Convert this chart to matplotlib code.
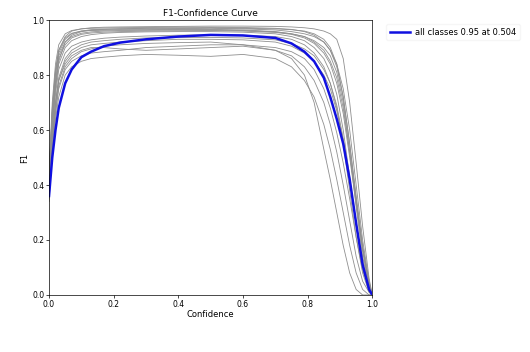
import matplotlib
matplotlib.use('Agg')
import matplotlib.pyplot as plt

# confidence grid the curves were read at
conf = [0.0, 0.01, 0.02, 0.03, 0.05, 0.07, 0.1, 0.13, 0.17, 0.22, 0.3, 0.4, 0.5, 0.6,
        0.7, 0.75, 0.79, 0.82, 0.85, 0.87, 0.89, 0.91, 0.93, 0.95, 0.97, 0.99, 1.0]

# per-class F1 curves (grey)
class_f1 = [
    [0.42, 0.68, 0.82, 0.89, 0.94, 0.96, 0.968, 0.972, 0.974, 0.975, 0.976, 0.977, 0.978, 0.978, 0.977, 0.975, 0.972, 0.968, 0.96, 0.95, 0.93, 0.86, 0.70, 0.48, 0.25, 0.06, 0.0],
    [0.40, 0.62, 0.76, 0.85, 0.92, 0.945, 0.958, 0.963, 0.966, 0.968, 0.97, 0.971, 0.972, 0.97, 0.968, 0.965, 0.96, 0.95, 0.93, 0.90, 0.84, 0.72, 0.55, 0.35, 0.16, 0.03, 0.0],
    [0.34, 0.52, 0.64, 0.72, 0.80, 0.83, 0.85, 0.86, 0.865, 0.87, 0.875, 0.872, 0.868, 0.875, 0.86, 0.83, 0.78, 0.72, 0.62, 0.53, 0.42, 0.30, 0.18, 0.08, 0.02, 0.0, 0.0],
    [0.38, 0.58, 0.70, 0.78, 0.85, 0.88, 0.90, 0.91, 0.915, 0.92, 0.925, 0.93, 0.93, 0.928, 0.92, 0.905, 0.88, 0.85, 0.80, 0.75, 0.67, 0.56, 0.42, 0.26, 0.12, 0.02, 0.0],
    [0.44, 0.66, 0.80, 0.88, 0.93, 0.95, 0.96, 0.962, 0.963, 0.965, 0.965, 0.966, 0.966, 0.964, 0.958, 0.95, 0.94, 0.925, 0.90, 0.87, 0.81, 0.70, 0.52, 0.32, 0.14, 0.03, 0.0],
    [0.36, 0.55, 0.67, 0.76, 0.83, 0.86, 0.885, 0.895, 0.905, 0.91, 0.915, 0.918, 0.92, 0.91, 0.89, 0.86, 0.80, 0.70, 0.53, 0.42, 0.30, 0.18, 0.08, 0.02, 0.0, 0.0, 0.0],
    [0.41, 0.63, 0.77, 0.86, 0.91, 0.935, 0.948, 0.953, 0.956, 0.958, 0.96, 0.961, 0.962, 0.96, 0.955, 0.948, 0.935, 0.915, 0.88, 0.84, 0.77, 0.66, 0.50, 0.33, 0.17, 0.04, 0.0],
    [0.37, 0.56, 0.69, 0.78, 0.84, 0.87, 0.89, 0.90, 0.90, 0.895, 0.89, 0.895, 0.90, 0.905, 0.89, 0.87, 0.83, 0.78, 0.70, 0.62, 0.52, 0.40, 0.27, 0.14, 0.05, 0.01, 0.0],
    [0.43, 0.67, 0.81, 0.89, 0.935, 0.952, 0.96, 0.965, 0.967, 0.968, 0.968, 0.969, 0.97, 0.968, 0.964, 0.958, 0.95, 0.94, 0.92, 0.89, 0.84, 0.75, 0.60, 0.40, 0.20, 0.05, 0.0],
    [0.39, 0.60, 0.73, 0.82, 0.88, 0.905, 0.92, 0.928, 0.934, 0.938, 0.942, 0.945, 0.946, 0.945, 0.94, 0.93, 0.91, 0.88, 0.83, 0.77, 0.68, 0.55, 0.38, 0.21, 0.08, 0.01, 0.0],
    [0.40, 0.61, 0.75, 0.84, 0.90, 0.925, 0.94, 0.947, 0.952, 0.955, 0.957, 0.958, 0.958, 0.956, 0.95, 0.94, 0.925, 0.90, 0.86, 0.81, 0.73, 0.60, 0.43, 0.25, 0.10, 0.02, 0.0],
    [0.35, 0.54, 0.66, 0.75, 0.82, 0.85, 0.87, 0.88, 0.885, 0.89, 0.90, 0.905, 0.91, 0.91, 0.90, 0.885, 0.86, 0.82, 0.75, 0.68, 0.59, 0.48, 0.35, 0.21, 0.09, 0.02, 0.0],
    [0.45, 0.70, 0.84, 0.91, 0.95, 0.962, 0.968, 0.97, 0.971, 0.972, 0.973, 0.974, 0.974, 0.973, 0.97, 0.966, 0.958, 0.945, 0.92, 0.89, 0.83, 0.72, 0.55, 0.36, 0.18, 0.04, 0.0],
    [0.38, 0.57, 0.70, 0.79, 0.86, 0.89, 0.91, 0.92, 0.925, 0.93, 0.935, 0.936, 0.937, 0.935, 0.928, 0.915, 0.895, 0.87, 0.82, 0.77, 0.69, 0.57, 0.42, 0.26, 0.12, 0.02, 0.0],
    [0.42, 0.64, 0.78, 0.87, 0.92, 0.94, 0.952, 0.957, 0.96, 0.962, 0.963, 0.964, 0.964, 0.962, 0.957, 0.95, 0.94, 0.92, 0.89, 0.85, 0.79, 0.68, 0.52, 0.34, 0.17, 0.04, 0.0],
]

# mean over all classes (blue)
all_f1 = [0.36, 0.50, 0.60, 0.68, 0.77, 0.82, 0.865, 0.885, 0.905, 0.918, 0.93, 0.94, 0.946,
          0.944, 0.935, 0.915, 0.885, 0.85, 0.79, 0.72, 0.64, 0.55, 0.42, 0.26, 0.11, 0.02, 0.0]
all_label = 'all classes 0.95 at 0.504'

fig = plt.figure(figsize=(5.3, 3.52), dpi=100)
ax = fig.add_axes([0.0925, 0.162, 0.61, 0.781])

for y in class_f1:
    ax.plot(conf, y, color='#8f8f8f', linewidth=0.6)
ax.plot(conf, all_f1, color='#1010e0', linewidth=1.8, label=all_label)

ax.set_xlim(0, 1)
ax.set_ylim(0, 1)
ax.set_xlabel('Confidence', fontsize=6, labelpad=1)
ax.set_ylabel('F1', fontsize=6, labelpad=2)
ax.set_title('F1-Confidence Curve', fontsize=6.5, pad=3)
ax.tick_params(labelsize=5.5, length=2, width=0.5, pad=1.5)
for s in ax.spines.values():
    s.set_linewidth(0.5)
ax.legend(bbox_to_anchor=(1.03, 1), loc='upper left', fontsize=6,
          frameon=True, edgecolor='#f4f4f4', handlelength=2.5, handletextpad=0.6)

fig.savefig('out.png', dpi=100)
